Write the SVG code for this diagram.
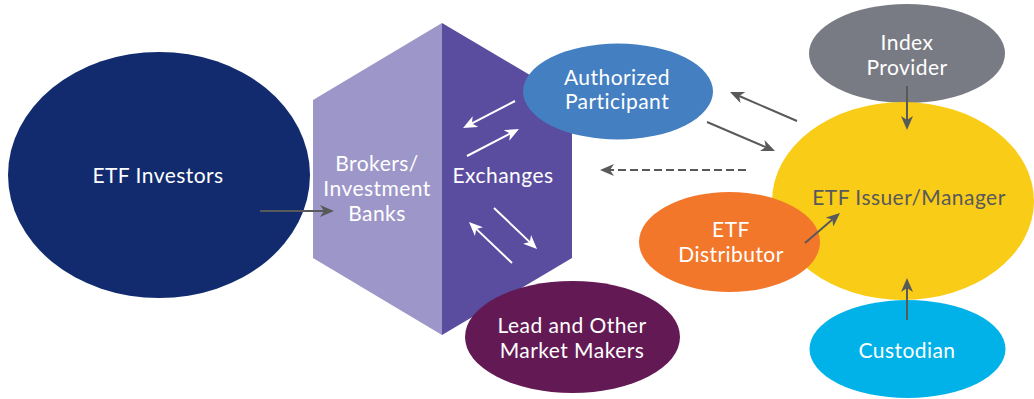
<svg xmlns="http://www.w3.org/2000/svg" width="1034" height="399" viewBox="0 0 1034 399">
  <style>
    .lbl { font-family: Lato, "Open Sans", "Liberation Sans", sans-serif; font-size: 21px; letter-spacing: 0.45px; fill: #ffffff; text-anchor: middle; }
    .dark { fill: #58595b; }
    .conn { stroke: #58595b; stroke-width: 2; fill: none; }
    .conn-w { stroke: #ffffff; stroke-width: 2; fill: none; }
    .dash { stroke-dasharray: 8 4; }
  </style>
  <defs>
    <marker id="ah" markerUnits="userSpaceOnUse" markerWidth="14" markerHeight="12" refX="4" refY="6" orient="auto">
      <path d="M0,0 L14,6 L0,12 L4,6 Z" fill="#58595b"/>
    </marker>
    <marker id="ah-w" markerUnits="userSpaceOnUse" markerWidth="14" markerHeight="12" refX="4" refY="6" orient="auto">
      <path d="M0,0 L14,6 L0,12 L4,6 Z" fill="#ffffff"/>
    </marker>
  </defs>
  <rect width="1034" height="399" fill="#ffffff"/>

  <g id="etf-investors">
    <ellipse cx="159" cy="175" rx="151" ry="123" fill="#112b6e"/>
    <text class="lbl" x="158" y="183">ETF Investors</text>
  </g>

  <g id="brokers-exchanges">
    <polygon points="442,23 313,100 313,258 442,335" fill="#9d96c8"/>
    <polygon points="442,23 572,100 572,258 442,335" fill="#5a4da0"/>
    <text class="lbl" x="377" y="171">Brokers/</text>
    <text class="lbl" x="377" y="196">Investment</text>
    <text class="lbl" x="377" y="221">Banks</text>
    <text class="lbl" x="503" y="183">Exchanges</text>
  </g>

  <g id="authorized-participant">
    <ellipse cx="618" cy="91.5" rx="95" ry="48" fill="#437fc1"/>
    <text class="lbl" x="617" y="85">Authorized</text>
    <text class="lbl" x="617" y="109">Participant</text>
  </g>

  <g id="market-makers">
    <ellipse cx="572.5" cy="337" rx="107.5" ry="56" fill="#631a54"/>
    <text class="lbl" x="572" y="333">Lead and Other</text>
    <text class="lbl" x="572" y="358">Market Makers</text>
  </g>

  <g id="index-provider">
    <ellipse cx="907" cy="53.5" rx="98" ry="49.5" fill="#797b84"/>
    <text class="lbl" x="907" y="50">Index</text>
    <text class="lbl" x="907" y="75">Provider</text>
  </g>

  <g id="etf-issuer">
    <ellipse cx="903" cy="201" rx="131" ry="99" fill="#f9cc17"/>
    <text class="lbl dark" x="909" y="205">ETF Issuer/Manager</text>
  </g>

  <g id="custodian">
    <ellipse cx="907.5" cy="349" rx="98" ry="49" fill="#00b2e8"/>
    <text class="lbl" x="907" y="358">Custodian</text>
  </g>

  <g id="etf-distributor">
    <ellipse cx="729.5" cy="242" rx="90.5" ry="50" fill="#f2772b"/>
    <text class="lbl" x="731" y="237">ETF</text>
    <text class="lbl" x="731" y="262">Distributor</text>
  </g>

  <g id="connectors">
    <line class="conn" x1="260" y1="211" x2="324" y2="211" marker-end="url(#ah)"/>
    <line class="conn" x1="907" y1="86" x2="907" y2="120" marker-end="url(#ah)"/>
    <line class="conn" x1="907" y1="320" x2="907" y2="288" marker-end="url(#ah)"/>
    <line class="conn" x1="805" y1="243" x2="832.4" y2="219.5" marker-end="url(#ah)"/>
    <line class="conn" x1="797" y1="121" x2="739.2" y2="96" marker-end="url(#ah)"/>
    <line class="conn" x1="707" y1="122" x2="765.8" y2="147.1" marker-end="url(#ah)"/>
    <line class="conn dash" x1="746" y1="170" x2="610" y2="170" marker-end="url(#ah)"/>
    <line class="conn-w" x1="515" y1="101" x2="471.9" y2="123.4" marker-end="url(#ah-w)"/>
    <line class="conn-w" x1="467" y1="156" x2="510.1" y2="133.6" marker-end="url(#ah-w)"/>
    <line class="conn-w" x1="494" y1="208" x2="529.8" y2="242.1" marker-end="url(#ah-w)"/>
    <line class="conn-w" x1="512" y1="263" x2="476.2" y2="228.9" marker-end="url(#ah-w)"/>
  </g>
</svg>
